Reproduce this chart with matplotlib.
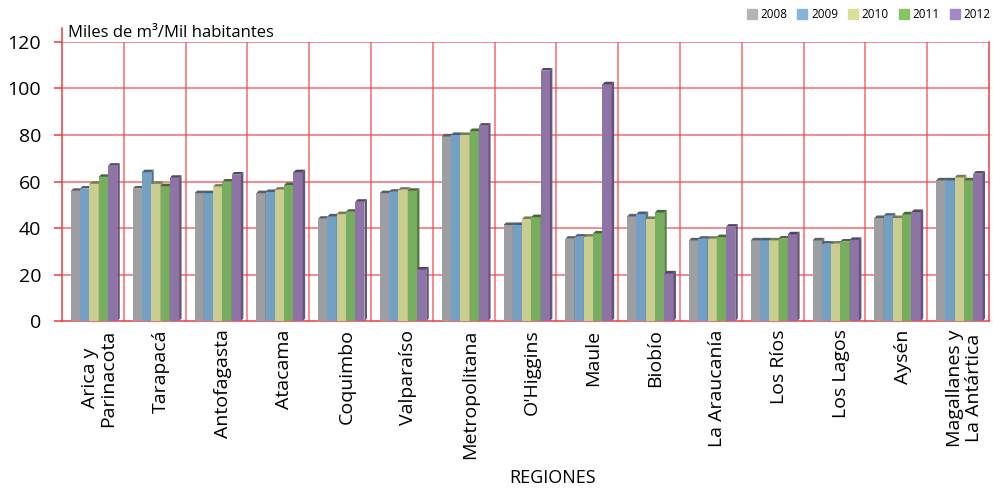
import numpy as np
import matplotlib.pyplot as plt
from matplotlib.patches import Polygon
from matplotlib.colors import to_rgb

plt.rcParams["font.family"] = ["Open Sans", "DejaVu Sans"]

regions = ["Arica y\nParinacota", "Tarapacá", "Antofagasta", "Atacama", "Coquimbo",
           "Valparaíso", "Metropolitana", "O'Higgins", "Maule", "Biobío",
           "La Araucanía", "Los Ríos", "Los Lagos", "Aysén", "Magallanes y\nLa Antártica"]
years = ["2008", "2009", "2010", "2011", "2012"]

v2008 = [56.0, 57.0, 55.0, 55.0, 44.0, 55.0, 79.4, 41.3, 35.4, 45.0, 34.7, 34.7, 34.7, 44.3, 60.5]
v2009 = [57.0, 64.0, 55.0, 55.5, 45.0, 55.6, 80.0, 41.3, 36.3, 46.0, 35.4, 34.7, 33.3, 45.3, 60.5]
v2010 = [59.0, 59.0, 57.8, 56.5, 46.0, 56.5, 80.0, 43.9, 36.3, 43.9, 35.4, 34.7, 33.3, 44.3, 61.8]
v2011 = [62.0, 58.0, 60.0, 58.5, 47.0, 56.0, 81.7, 44.7, 37.7, 46.7, 36.1, 35.5, 34.2, 45.9, 60.5]
v2012 = [66.8, 61.6, 63.0, 64.0, 51.3, 22.2, 84.0, 107.7, 101.8, 20.5, 40.6, 37.3, 34.9, 46.9, 63.4]
series = [v2008, v2009, v2010, v2011, v2012]
colors = ["#9d9ea2", "#74a0c4", "#c9cd8f", "#77ad5f", "#8e73a6"]
legend_colors = ["#b4b4b8", "#86b4dc", "#dcdf98", "#86c464", "#a586c6"]

fig = plt.figure(figsize=(9.93, 4.88), dpi=100)
ax = fig.add_axes([0.0624, 0.342, 0.9336, 0.572])

n = len(regions)
x = np.arange(n)
w = 0.15
dx, dy = 0.04, 1.1


def shade(c, f):
    r, g, b = to_rgb(c)
    return (r * f, g * f, b * f)


# bars left to right so each side face is hidden by the next bar
for i in range(len(years)):
    xs = x - 2 * w + i * w + 0.02
    bars = ax.bar(xs, series[i], width=w, color=colors[i], zorder=3,
                  label=years[i])
    for b in bars:
        x0, x1, h = b.get_x(), b.get_x() + b.get_width(), b.get_height()
        side = Polygon([(x1, 0), (x1 + dx, dy), (x1 + dx, h + dy), (x1, h)],
                       closed=True, color=shade(colors[i], 0.72), zorder=3, lw=0)
        top = Polygon([(x0, h), (x0 + dx, h + dy), (x1 + dx, h + dy), (x1, h)],
                      closed=True, color=shade(colors[i], 0.6), zorder=3, lw=0)
        ax.add_patch(side)
        ax.add_patch(top)

grid_c = "#ee3a44"

ax.set_xlim(-0.5, n - 0.5)
ax.set_ylim(0, 120)
ax.set_yticks(range(0, 121, 20))
ax.tick_params(axis="y", labelsize=14, length=6, width=1.1, color=grid_c,
               labelcolor="black", pad=9)
ax.tick_params(axis="x", length=0, pad=6)
ax.set_xticks(x + 0.1)
ax.set_xticklabels(regions, rotation=90, fontsize=14, ha="center", va="top",
                   linespacing=1.05)

for yv in range(20, 121, 20):
    ax.axhline(yv, color=grid_c, lw=1.1, alpha=0.75, zorder=1)
for xv in np.arange(0.5, n - 0.5, 1):
    ax.axvline(xv, color=grid_c, lw=1.1, alpha=0.75, zorder=1)

ax.spines["top"].set_visible(False)
for s in ["bottom", "right", "left"]:
    ax.spines[s].set_color(grid_c)
    ax.spines[s].set_linewidth(1.1)
ax.spines["left"].set_bounds(0, 126)
ax.spines["left"].set_clip_on(False)

ax.text(0.006, 1.005, "Miles de m³/Mil habitantes", transform=ax.transAxes,
        fontsize=12, ha="left", va="bottom", color="black")

fig.text(0.556, 0.003, "REGIONES", fontsize=13, ha="center", va="bottom")

handles = [plt.Rectangle((0, 0), 1, 1, color=c) for c in legend_colors]
fig.legend(handles, years, loc="upper right", bbox_to_anchor=(1.008, 1.005),
           ncol=5, frameon=False, fontsize=8.5, handlelength=0.85,
           handleheight=0.85, handletextpad=0.3, columnspacing=0.85)

fig.savefig("out.png", dpi=100)
